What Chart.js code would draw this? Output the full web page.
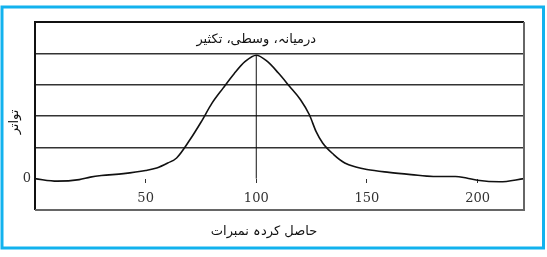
<!DOCTYPE html>
<html>
<head>
<meta charset="utf-8">
<script src="https://cdn.jsdelivr.net/npm/chart.js@4"></script>
<style>
  html, body { margin: 0; padding: 0; background: #fff; }
  #wrap { width: 547px; height: 257px; }
</style>
</head>
<body>
<div id="wrap"><canvas id="freqChart" width="547" height="257"></canvas></div>
<script>
// Scores obtained (x) and frequency (y)
const scores = [0, 10, 20, 25, 30, 40, 50, 55, 60, 64, 70, 75, 80, 85, 90, 95, 100, 105, 110, 115, 120, 124, 127, 130, 135, 140, 145, 150, 160, 170, 180, 190, 195, 200, 210, 221];
const frequency = [0, -0.08, -0.03, 0.05, 0.1, 0.16, 0.26, 0.34, 0.5, 0.66, 1.24, 1.8, 2.41, 2.89, 3.35, 3.74, 3.94, 3.74, 3.37, 2.95, 2.52, 2.04, 1.51, 1.14, 0.77, 0.5, 0.37, 0.29, 0.2, 0.13, 0.07, 0.07, 0.02, -0.05, -0.1, 0];
const xTicks = [50, 100, 150, 200];
const centreScore = 100;
const centrePeak = 3.92;

const titleTop = "درمیانہ، وسطی، تکثیر";
const titleX = "حاصل کردہ نمبرات";
const titleY = "تواتر";

const urduFont = "13px 'DejaVu Sans', sans-serif";

// Frame, blue border and the Urdu labels
const decorPlugin = {
    id: "decor",
    beforeDraw(chart) {
        const ctx = chart.ctx;
        ctx.save();
        ctx.strokeStyle = "#12b2ee";
        ctx.lineWidth = 3;
        ctx.strokeRect(2, 7, 541.5, 241);
        ctx.restore();
    },
    afterDraw(chart) {
        const ctx = chart.ctx;
        const a = chart.chartArea;
        const xs = chart.scales.x;
        ctx.save();
        // plot frame
        ctx.lineWidth = 2;
        ctx.strokeStyle = "#111";
        ctx.beginPath();
        ctx.moveTo(a.left, a.bottom);
        ctx.lineTo(a.left, a.top);
        ctx.lineTo(a.right, a.top);
        ctx.stroke();
        ctx.strokeStyle = "#666";
        ctx.beginPath();
        ctx.moveTo(a.right, a.top);
        ctx.lineTo(a.right, a.bottom);
        ctx.lineTo(a.left, a.bottom);
        ctx.stroke();

        ctx.fillStyle = "#111";
        ctx.font = urduFont;
        ctx.textAlign = "center";
        ctx.textBaseline = "middle";
        ctx.fillText(titleTop, xs.getPixelForValue(centreScore), 40);
        ctx.fillText(titleX, 264, 232);

        ctx.translate(15, 122);
        ctx.rotate(-Math.PI / 2);
        ctx.fillText(titleY, 0, 0);
        ctx.restore();
    }
};

const points = scores.map((s, i) => ({ x: s, y: frequency[i] }));

new Chart(document.getElementById("freqChart"), {
    type: "line",
    data: {
        datasets: [
            {
                data: points,
                borderColor: "#111",
                borderWidth: 1.6,
                pointRadius: 0,
                cubicInterpolationMode: "monotone",
                fill: false,
            },
            {
                data: [{ x: centreScore, y: 0 }, { x: centreScore, y: centrePeak }],
                borderColor: "#111",
                borderWidth: 1,
                pointRadius: 0,
                fill: false,
            },
        ],
    },
    options: {
        responsive: false,
        animation: false,
        layout: { padding: { top: 22, right: 23, bottom: 47, left: 4 } },
        plugins: {
            legend: { display: false },
            tooltip: { enabled: false },
        },
        scales: {
            x: {
                type: "linear",
                position: { y: 0 },
                min: 0,
                max: 221,
                afterBuildTicks: (scale) => {
                    scale.ticks = xTicks.map((v) => ({ value: v }));
                },
                grid: { drawOnChartArea: false, drawTicks: true, tickLength: 4, color: "#333" },
                border: { display: false },
                ticks: {
                    color: "#333",
                    padding: 8,
                    maxRotation: 0,
                    font: { family: "'DejaVu Serif', serif", size: 13 },
                },
            },
            y: {
                min: -1,
                max: 5,
                afterFit: (scale) => { scale.width = 31; },
                ticks: {
                    stepSize: 1,
                    color: "#333",
                    padding: 4,
                    font: { family: "'DejaVu Serif', serif", size: 13 },
                    callback: (v) => (v === 0 ? "0" : ""),
                },
                grid: {
                    drawTicks: false,
                    lineWidth: 1.5,
                    color: (c) => (c.tick && c.tick.value >= 1 ? "#333" : "rgba(0,0,0,0)"),
                },
                border: { display: false },
            },
        },
    },
    plugins: [decorPlugin],
});
</script>
</body>
</html>
